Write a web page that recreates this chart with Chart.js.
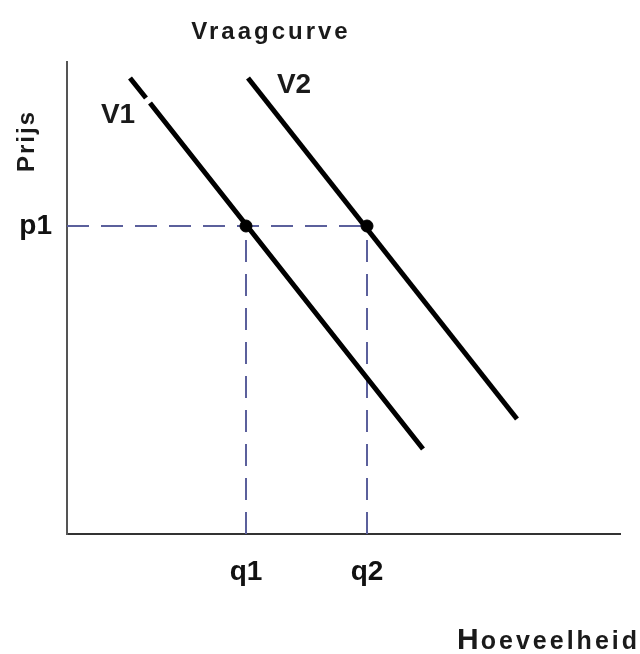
<!DOCTYPE html>
<html>
<head>
<meta charset="utf-8">
<script src="https://cdn.jsdelivr.net/npm/chart.js@4"></script>
<style>
  html, body { margin: 0; padding: 0; background: #fff; }
  #wrap { width: 640px; height: 654px; position: relative; }
</style>
</head>
<body>
<div id="wrap"><canvas id="vraag"></canvas></div>
<script>
// values in axis units (x: 0..553, y: 0..472)
const xMax = 553, yMax = 472;
const qLabels = ['q1', 'q2'];
const qValues = [179, 300];
const pLabels = ['p1'];
const pValues = [308];
// V1 has a small break near its top end in the original
const v1X = [63, 79, null, 83, 356], v1Y = [456, 436, null, 431, 85];
const v2X = [181, 450], v2Y = [456, 115];
const curveNames = ['V1', 'V2'];
const curveLabelAt = [[51, 419], [227, 449]];

const FONT = '"Liberation Sans", Arial, sans-serif';
const guide = '#5b609c';

const pts = (xs, ys) => xs.map((x, i) => (x === null ? { x: null, y: null } : { x, y: ys[i] }));

const labels = {
  id: 'labels',
  afterDraw(chart) {
    const { ctx, scales: { x, y } } = chart;
    ctx.save();
    ctx.fillStyle = '#1a1a1a';
    ctx.textAlign = 'center';
    ctx.textBaseline = 'alphabetic';
    ctx.font = 'bold 24px ' + FONT;
    ctx.letterSpacing = '3px';
    ctx.fillText('Vraagcurve', 271, 39);

    ctx.textBaseline = 'middle';
    ctx.letterSpacing = '0px';
    ctx.font = 'bold 28px ' + FONT;
    curveNames.forEach((n, i) => {
      ctx.fillText(n, x.getPixelForValue(curveLabelAt[i][0]), y.getPixelForValue(curveLabelAt[i][1]));
    });

    ctx.font = 'bold 24px ' + FONT;
    ctx.letterSpacing = '2px';
    ctx.save();
    ctx.translate(27, 141);
    ctx.rotate(-Math.PI / 2);
    ctx.fillText('Prijs', 0, 0);
    ctx.restore();

    // Hoeveelheid: big H, smaller rest
    ctx.textBaseline = 'alphabetic';
    ctx.textAlign = 'right';
    ctx.font = 'bold 25px ' + FONT;
    ctx.letterSpacing = '3px';
    ctx.fillText('oeveelheid', 640, 649);
    const rest = ctx.measureText('oeveelheid').width;
    ctx.font = 'bold 30px ' + FONT;
    ctx.letterSpacing = '2px';
    ctx.fillText('H', 640 - rest, 649);
    ctx.restore();
  }
};

new Chart(document.getElementById('vraag'), {
  type: 'scatter',
  plugins: [labels],
  data: {
    datasets: [
      { data: qValues.map(q => ({ x: q, y: pValues[0] })), showLine: false,
        pointRadius: 6, backgroundColor: '#000', borderColor: '#000' },
      { data: pts(v1X, v1Y), showLine: true, spanGaps: false, borderColor: '#000', borderWidth: 5, pointRadius: 0 },
      { data: pts(v2X, v2Y), showLine: true, borderColor: '#000', borderWidth: 5, pointRadius: 0 },
      { data: [{ x: 0, y: pValues[0] }, { x: qValues[1], y: pValues[0] }], showLine: true,
        borderColor: guide, borderWidth: 2, borderDash: [22, 12], pointRadius: 0 },
      { data: [{ x: qValues[0], y: 0 }, { x: qValues[0], y: pValues[0] }], showLine: true,
        borderColor: guide, borderWidth: 2, borderDash: [22, 12], pointRadius: 0 },
      { data: [{ x: qValues[1], y: 0 }, { x: qValues[1], y: pValues[0] }], showLine: true,
        borderColor: guide, borderWidth: 2, borderDash: [22, 12], pointRadius: 0 }
    ]
  },
  options: {
    responsive: true,
    maintainAspectRatio: false,
    animation: false,
    layout: { padding: { left: 0, top: 62, right: 20, bottom: 0 } },
    plugins: { legend: { display: false }, tooltip: { enabled: false }, title: { display: false } },
    scales: {
      x: {
        type: 'linear', min: 0, max: xMax,
        grid: { display: false, drawTicks: false },
        border: { color: '#333', width: 2 },
        afterBuildTicks: s => { s.ticks = qValues.map(v => ({ value: v })); },
        afterFit: s => { s.height = 120; },
        ticks: {
          padding: 21, color: '#111', font: { family: FONT, size: 28, weight: 'bold' },
          callback: v => qLabels[qValues.indexOf(v)]
        }
      },
      y: {
        type: 'linear', min: 0, max: yMax,
        grid: { display: false, drawTicks: false },
        border: { color: '#555', width: 2 },
        afterBuildTicks: s => { s.ticks = pValues.map(v => ({ value: v })); },
        afterFit: s => { s.width = 67; },
        ticks: {
          padding: 15, color: '#111', font: { family: FONT, size: 28, weight: 'bold' },
          callback: v => pLabels[pValues.indexOf(v)]
        }
      }
    }
  }
});
</script>
</body>
</html>
